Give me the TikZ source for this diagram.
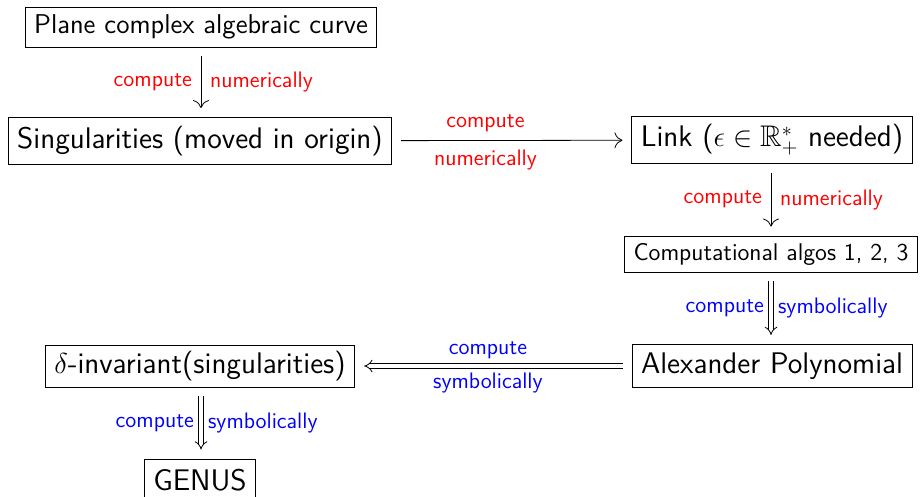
\documentclass[tikz,border=0pt]{standalone}
\usepackage{amsmath,amssymb}
\usepackage{tikz}
\usetikzlibrary{arrows.meta}
\renewcommand{\familydefault}{\sfdefault}

\begin{document}
\begin{tikzpicture}[
    x=0.5pt, y=0.5pt,
    box/.style={draw, thin, inner xsep=4.5pt, inner ysep=0pt, minimum height=20pt},
    bigbox/.style={box, font=\fontsize{14.9}{18}\selectfont},
    lbl/.style={font=\fontsize{11.2}{13}\selectfont},
    numflow/.style={-{To[length=4pt, width=8pt]}, thin, shorten >=4.5pt, shorten <=4.5pt},
    symflow/.style={-{Implies[length=5pt, width=10pt]}, double, double distance=1.8pt,
        shorten >=4.5pt, shorten <=4.5pt},
    num/.style={lbl, text=red},
    sym/.style={lbl, text=blue}
]
\useasboundingbox (0,0) rectangle (920,-497);
\node[box, font=\fontsize{13.6}{16}\selectfont] (curve) at (201,-27)
    {Plane complex algebraic curve};
\node[bigbox, minimum height=23.5pt] (sing) at (200,-141)
    {Singularities (moved in origin)};
\node[bigbox, minimum height=23.5pt] (link) at (772,-140)
    {Link ($\epsilon\in\mathbb{R}_+^*$ needed)};
\node[box, font=\fontsize{12.1}{14}\selectfont, minimum height=18pt] (algos) at (771,-254)
    {Computational algos 1, 2, 3};
\node[bigbox, minimum height=21.5pt] (alex) at (772,-366)
    {Alexander Polynomial};
\node[bigbox, minimum height=21pt] (delta) at (200,-366)
    {$\delta$-invariant(singularities)};
\node[bigbox, minimum height=21pt] (genus) at (200,-480)
    {GENUS};
\draw[numflow] (curve.south -| 201,0) -- node[num, left=1pt]{compute}
    node[num, right=1pt]{numerically} (sing.north -| 201,0);
\draw[numflow] (sing) -- node[num, above=1pt, pos=0.39]{compute}
    node[num, below=1pt, pos=0.39]{numerically} (link);
\draw[numflow] (link.south -| 771,0) -- node[num, left=1pt]{compute}
    node[num, right=1pt]{numerically} (algos);
\draw[symflow] (algos) -- node[sym, left]{compute}
    node[sym, right]{symbolically} (alex.north -| 771,0);
\draw[symflow] (alex) -- node[sym, above, pos=0.52]{compute}
    node[sym, below, pos=0.52]{symbolically} (delta);
\draw[symflow] (delta.south -| 201,0) -- node[sym, left]{compute}
    node[sym, right]{symbolically} (genus.north -| 201,0);
\end{tikzpicture}
\end{document}
